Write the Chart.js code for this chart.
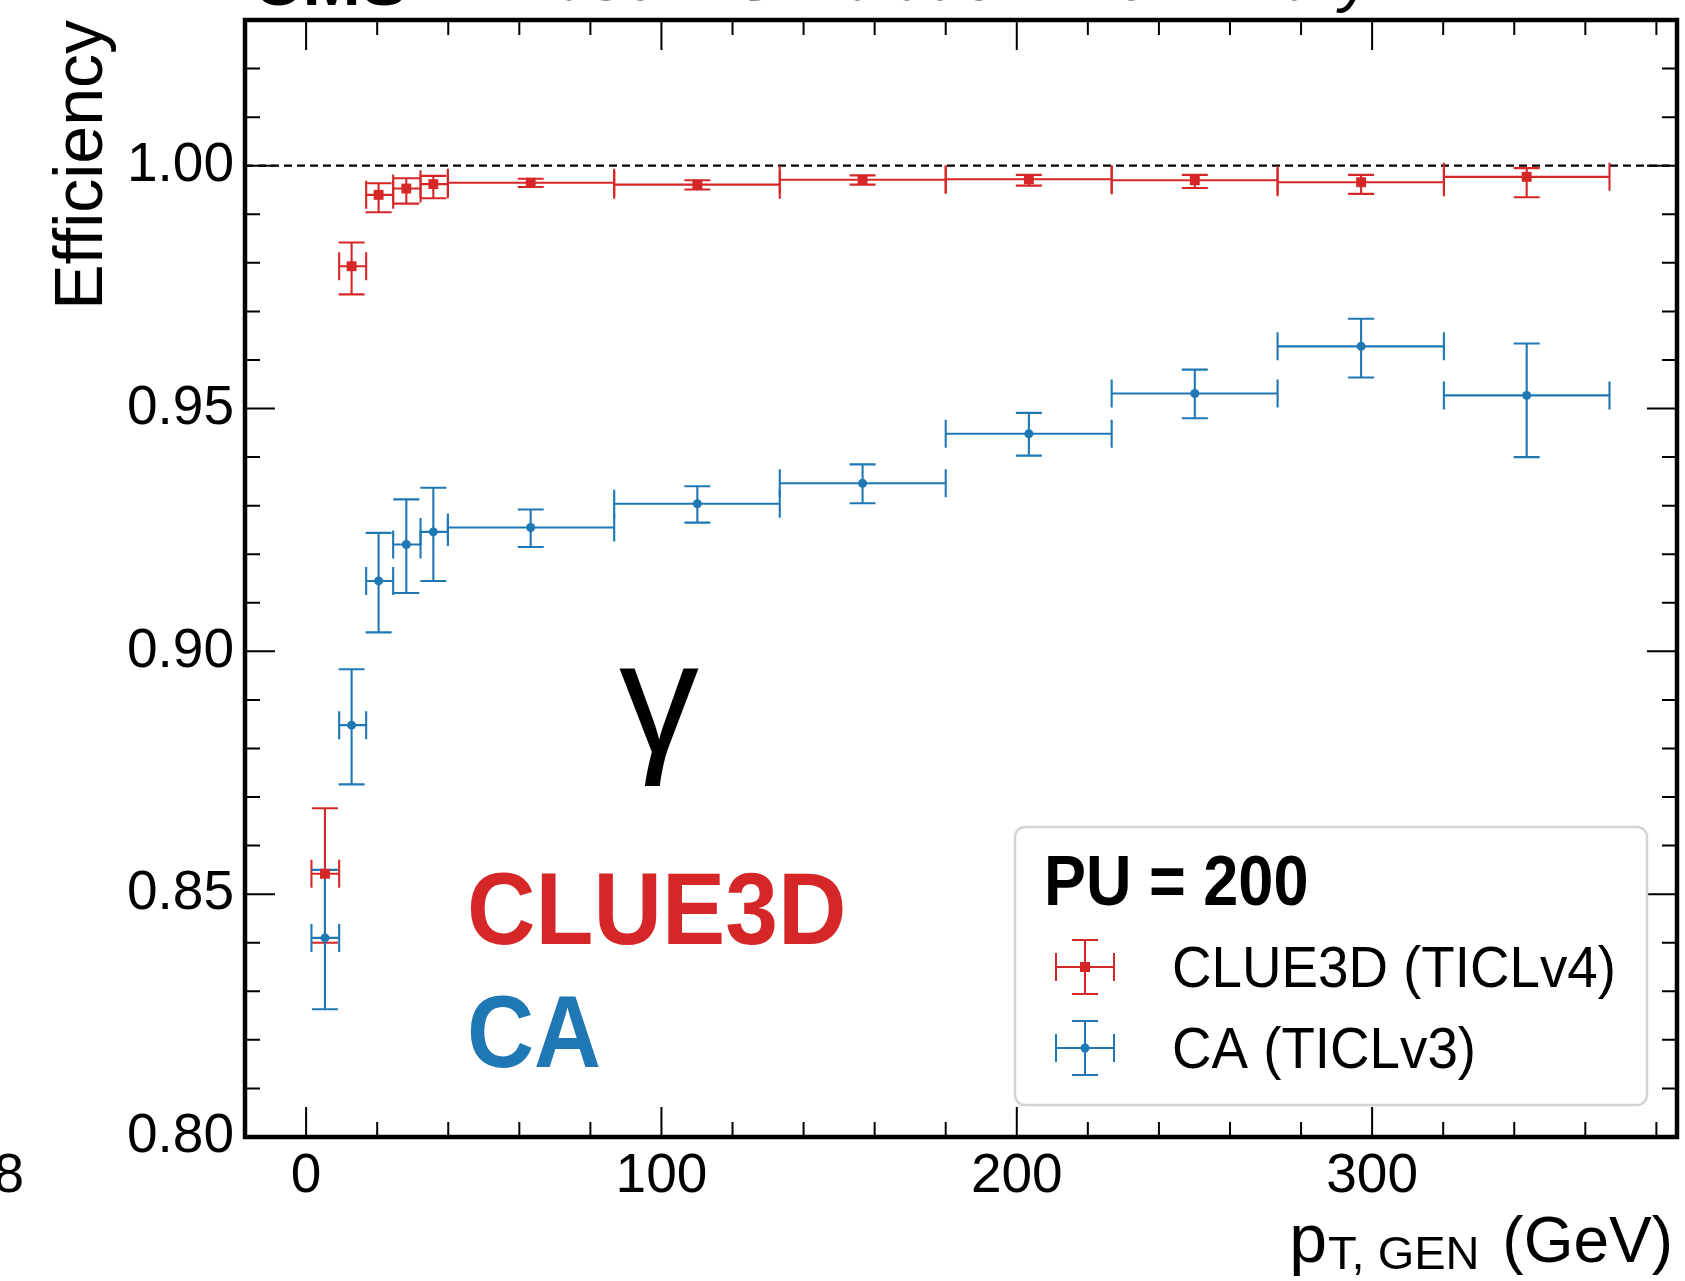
<!DOCTYPE html>
<html>
<head>
<meta charset="utf-8">
<script src="https://cdn.jsdelivr.net/npm/chart.js@4/dist/chart.umd.min.js"></script>
<style>
  html, body { margin: 0; padding: 0; background: #fff; }
</style>
</head>
<body>
<canvas id="myChart" width="1685" height="1281"></canvas>
<script>
// pT bins (GeV)
const ptCenter  = [5.3, 12.8, 20.4, 28.2, 35.8, 63.2, 110.1, 156.6, 203.4, 250.1, 296.9, 343.5];
const ptBinLow  = [1.5, 9.3, 16.9, 24.5, 32.2, 39.9, 86.7, 133.3, 180.0, 226.7, 273.4, 320.2];
const ptBinHigh = [9.3, 16.9, 24.5, 32.2, 39.9, 86.7, 133.3, 180.0, 226.7, 273.4, 320.2, 366.8];

// CLUE3D (TICLv4)
const effClue     = [0.8542, 0.9793, 0.9940, 0.9953, 0.9962, 0.9965, 0.9961, 0.9971, 0.9972, 0.9970, 0.9966, 0.9977];
const clueErrUp   = [0.0135, 0.0049, 0.0024, 0.0021, 0.0017, 0.0008, 0.0009, 0.0009, 0.0009, 0.0011, 0.0015, 0.0018];
const clueErrDown = [0.0142, 0.0058, 0.0036, 0.0031, 0.0029, 0.0009, 0.0010, 0.0010, 0.0013, 0.0016, 0.0024, 0.0042];

// CA (TICLv3)
const effCA     = [0.8410, 0.8848, 0.9145, 0.9220, 0.9246, 0.9255, 0.9304, 0.9346, 0.9448, 0.9531, 0.9628, 0.9527];
const caErrUp   = [0.0140, 0.0115, 0.0099, 0.0093, 0.0091, 0.0037, 0.0036, 0.0039, 0.0043, 0.0049, 0.0057, 0.0107];
const caErrDown = [0.0147, 0.0122, 0.0106, 0.0100, 0.0101, 0.0040, 0.0039, 0.0041, 0.0045, 0.0051, 0.0064, 0.0127];

const seriesLabels = ['CLUE3D (TICLv4)', 'CA (TICLv3)'];
const legendTitle = 'PU = 200';

const xMajorTicks = [0, 100, 200, 300];
const xMinorTicks = [20, 40, 60, 80, 120, 140, 160, 180, 220, 240, 260, 280, 320, 340, 360, 380];
const yMajorTicks = [0.80, 0.85, 0.90, 0.95, 1.00];
const yMinorTicks = [0.81, 0.82, 0.83, 0.84, 0.86, 0.87, 0.88, 0.89, 0.91, 0.92, 0.93, 0.94,
                     0.96, 0.97, 0.98, 0.99, 1.01, 1.02];

const RED = '#d62728';
const BLUE = '#1f77b4';
const FONT = "'Liberation Sans', Arial, Helvetica, sans-serif";
Chart.defaults.font.family = FONT;

function textAt(c, str, x, y, font, color, align, sx) {
  c.save();
  c.font = font;
  c.fillStyle = color;
  c.textAlign = align || 'left';
  c.textBaseline = 'alphabetic';
  c.translate(x, y);
  c.scale(sx || 1, 1);
  c.fillText(str, 0, 0);
  c.restore();
}

// error bar cross in pixel space
function cross(c, px, py, xl, xh, yt, yb, color, lw) {
  const cap = 13;
  c.save();
  c.strokeStyle = color;
  c.lineWidth = lw;
  c.beginPath();
  c.moveTo(xl, py); c.lineTo(xh, py);
  c.moveTo(xl, py - cap - 1); c.lineTo(xl, py + cap + 1);
  c.moveTo(xh, py - cap - 1); c.lineTo(xh, py + cap + 1);
  c.moveTo(px, yt); c.lineTo(px, yb);
  c.moveTo(px - cap, yt); c.lineTo(px + cap, yt);
  c.moveTo(px - cap, yb); c.lineTo(px + cap, yb);
  c.stroke();
  c.restore();
}

const hepPlugin = {
  id: 'hep',
  beforeDatasetsDraw(chart) {
    const c = chart.ctx, xs = chart.scales.x, ys = chart.scales.y, a = chart.chartArea;
    // reference line at efficiency 1
    c.save();
    c.strokeStyle = '#000';
    c.lineWidth = 2.2;
    c.setLineDash([8, 5]);
    c.beginPath();
    c.moveTo(a.left, ys.getPixelForValue(1.0));
    c.lineTo(a.right, ys.getPixelForValue(1.0));
    c.stroke();
    c.restore();

    const sets = [
      [effClue, clueErrUp, clueErrDown, RED],
      [effCA, caErrUp, caErrDown, BLUE]
    ];
    sets.forEach(([eff, up, dn, col]) => {
      eff.forEach((v, i) => {
        cross(c,
          xs.getPixelForValue(ptCenter[i]), ys.getPixelForValue(v),
          xs.getPixelForValue(ptBinLow[i]), xs.getPixelForValue(ptBinHigh[i]),
          ys.getPixelForValue(v + up[i]), ys.getPixelForValue(v - dn[i]),
          col, 2.1);
      });
    });
  },
  afterDraw(chart) {
    const c = chart.ctx, xs = chart.scales.x, ys = chart.scales.y, a = chart.chartArea;

    // inward ticks on all four sides
    c.save();
    c.strokeStyle = '#000';
    c.lineWidth = 2;
    c.beginPath();
    const tickX = (v, len) => {
      const p = xs.getPixelForValue(v);
      c.moveTo(p, a.bottom); c.lineTo(p, a.bottom - len);
      c.moveTo(p, a.top); c.lineTo(p, a.top + len);
    };
    const tickY = (v, len) => {
      const p = ys.getPixelForValue(v);
      c.moveTo(a.left, p); c.lineTo(a.left + len, p);
      c.moveTo(a.right, p); c.lineTo(a.right - len, p);
    };
    xMajorTicks.forEach(v => tickX(v, 30));
    xMinorTicks.forEach(v => tickX(v, 15));
    yMajorTicks.forEach(v => tickY(v, 30));
    yMinorTicks.forEach(v => tickY(v, 15));
    c.stroke();
    // frame
    c.lineWidth = 4.5;
    c.strokeRect(a.left, a.top, a.right - a.left, a.bottom - a.top);
    c.restore();

    // annotations
    textAt(c, '\u03b3', 659, 753, '160px ' + FONT, '#000', 'center');
    textAt(c, 'CLUE3D', 467, 944, 'bold 102px ' + FONT, RED, 'left', 0.93);
    textAt(c, 'CA', 467, 1067, 'bold 102px ' + FONT, BLUE, 'left', 0.91);

    // legend
    c.save();
    c.beginPath();
    c.roundRect(1015, 827, 632, 278, 10);
    c.fillStyle = 'rgba(255,255,255,0.8)';
    c.fill();
    c.strokeStyle = '#d4d4d4';
    c.lineWidth = 2.5;
    c.stroke();
    c.restore();
    textAt(c, legendTitle, 1044, 905, 'bold 70px ' + FONT, '#000', 'left', 0.9);
    const rows = [[967, RED, 'rect'], [1048, BLUE, 'circle']];
    rows.forEach(([ry, col, style], k) => {
      cross(c, 1085, ry, 1056, 1114, ry - 27, ry + 27, col, 2);
      c.save();
      c.fillStyle = col;
      if (style === 'rect') c.fillRect(1080, ry - 5, 10, 10);
      else { c.beginPath(); c.arc(1085, ry, 4.5, 0, Math.PI * 2); c.fill(); }
      c.restore();
      textAt(c, seriesLabels[k], 1172, ry + 20, '57px ' + FONT, '#000', 'left', 0.96);
    });

    // x axis title with subscript, right aligned
    c.save();
    const big = '64px ' + FONT, pFont = '68px ' + FONT, small = '47px ' + FONT;
    c.font = big;
    const wUnit = c.measureText('(GeV)').width;
    const wSpace = c.measureText(' ').width;
    c.font = small;
    const wSub = c.measureText('T, GEN').width;
    c.restore();
    let xr = 1673;
    textAt(c, '(GeV)', xr, 1262, big, '#000', 'right');
    xr -= wUnit + wSpace + 5;
    textAt(c, 'T, GEN', xr, 1269, small, '#000', 'right');
    xr -= wSub + 1;
    textAt(c, 'p', xr, 1262, pFont, '#000', 'right');

    // cropped pieces of the original figure
    textAt(c, 'CMS', 252, 5, 'bold 70px ' + FONT, '#000', 'left');
    textAt(c, 'Phase-2 Simulation Preliminary', 1372, 0, 'italic 64px ' + FONT, '#000', 'right');
    textAt(c, '8', 24, 1192, '55px ' + FONT, '#000', 'right');
  }
};

const ctx = document.getElementById('myChart').getContext('2d');

new Chart(ctx, {
  type: 'scatter',
  data: {
    datasets: [{
      label: seriesLabels[0],
      data: ptCenter.map((x, i) => ({ x: x, y: effClue[i] })),
      pointStyle: 'rect',
      pointRadius: 7,
      pointBackgroundColor: RED,
      pointBorderWidth: 0,
      borderColor: RED
    }, {
      label: seriesLabels[1],
      data: ptCenter.map((x, i) => ({ x: x, y: effCA[i] })),
      pointStyle: 'circle',
      pointRadius: 4.5,
      pointBackgroundColor: BLUE,
      pointBorderWidth: 0,
      borderColor: BLUE
    }]
  },
  options: {
    responsive: false,
    animation: false,
    devicePixelRatio: 1,
    layout: { padding: { left: 0, right: 8, top: 20, bottom: 0 } },
    plugins: {
      legend: { display: false },
      tooltip: { enabled: false }
    },
    scales: {
      x: {
        type: 'linear',
        min: -17.2,
        max: 385.8,
        grid: { display: false, drawTicks: false },
        border: { display: false },
        ticks: {
          color: '#000',
          font: { size: 55 },
          padding: 7,
          autoSkip: false,
          maxRotation: 0,
          callback: v => String(v)
        },
        afterBuildTicks: s => { s.ticks = xMajorTicks.map(v => ({ value: v })); },
        afterFit: s => { s.height = 144; s.paddingLeft = 0; s.paddingRight = 0; }
      },
      y: {
        type: 'linear',
        min: 0.80,
        max: 1.03,
        grid: { display: false, drawTicks: false },
        border: { display: false },
        ticks: {
          color: '#000',
          font: { size: 55 },
          padding: 11,
          autoSkip: false,
          callback: v => Number(v).toFixed(2)
        },
        title: {
          display: true,
          text: 'Efficiency',
          align: 'end',
          color: '#000',
          font: { size: 68 },
          padding: { top: 42, bottom: 0 }
        },
        afterBuildTicks: s => { s.ticks = yMajorTicks.map(v => ({ value: v })); },
        afterFit: s => { s.width = 245; s.paddingTop = 0; s.paddingBottom = 0; }
      }
    }
  },
  plugins: [hepPlugin]
});
</script>
</body>
</html>
